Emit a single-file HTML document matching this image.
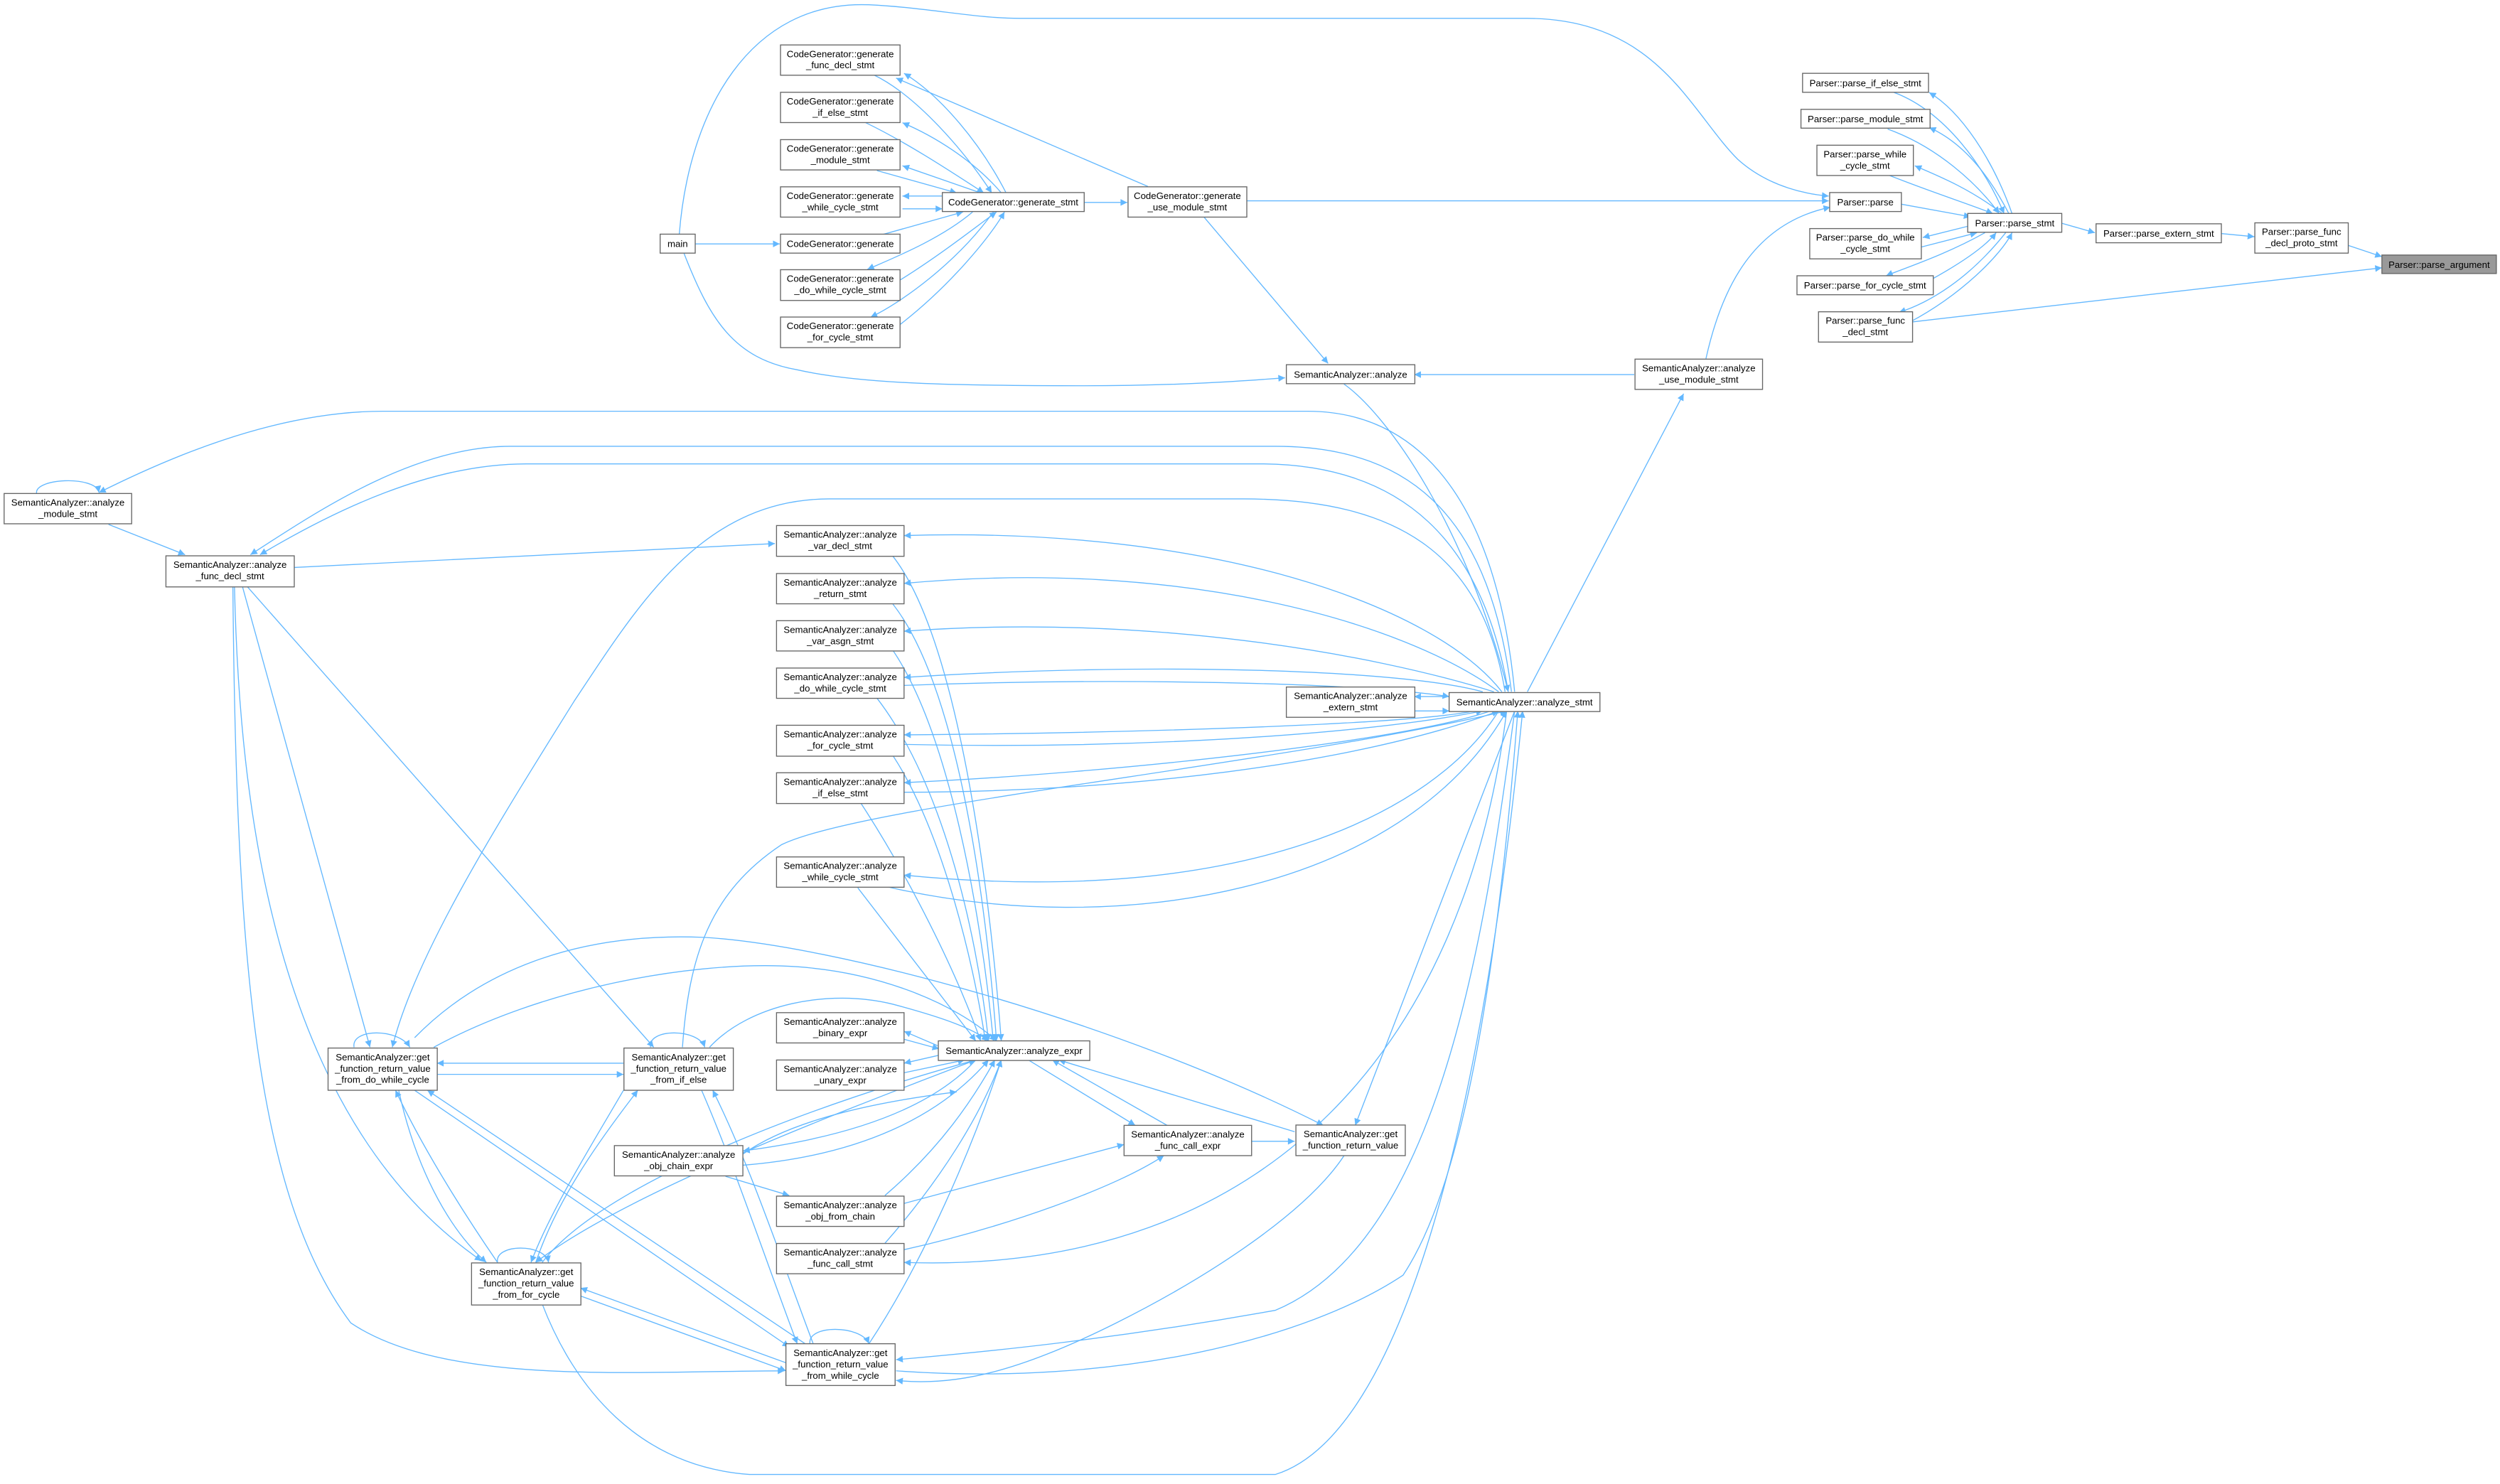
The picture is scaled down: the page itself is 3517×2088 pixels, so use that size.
<!DOCTYPE html>
<html><head><meta charset="utf-8"><style>
html,body{margin:0;padding:0;background:#fff;}
svg{display:block}
text{font-family:"Liberation Sans",Arial,sans-serif;font-size:5.9px;fill:#000;text-anchor:middle}
.e{fill:none;stroke:#63b8ff;stroke-width:0.6}
.n{fill:#fff;stroke:#666;stroke-width:0.6}
</style></head><body>
<svg width="3517" height="2088" viewBox="0 0 1568 931" xmlns="http://www.w3.org/2000/svg">
<defs><marker id="a" viewBox="0 0 10 10" refX="10" refY="5" markerWidth="5.4" markerHeight="4.2" markerUnits="userSpaceOnUse" orient="auto"><path d="M0,0 L10,5 L0,10z" fill="#63b8ff"/></marker></defs>
<g marker-end="url(#a)">
<path class="e" d="M1473,154 L1494,161"/>
<path class="e" d="M1199,202 L1494,168"/>
<path class="e" d="M1393,146.5 L1414,148.5"/>
<path class="e" d="M1293,140 L1314,146"/>
<path class="e" d="M1192,128 L1236,136"/>
<path class="e" d="M1262,134 C1250,100 1230,70 1210,58"/>
<path class="e" d="M1188,58 C1220,70 1245,105 1257,134"/>
<path class="e" d="M1260,134 C1245,105 1228,88 1210,80"/>
<path class="e" d="M1184,81 C1215,92 1240,115 1254,134"/>
<path class="e" d="M1256,134 C1235,118 1215,110 1201,104"/>
<path class="e" d="M1185,110 C1210,120 1235,128 1250,134"/>
<path class="e" d="M1234,142 L1206,149"/>
<path class="e" d="M1205,155 L1240,146"/>
<path class="e" d="M1245,146 C1220,160 1195,168 1183,173"/>
<path class="e" d="M1212,175 C1230,165 1245,155 1252,146"/>
<path class="e" d="M1258,146 C1235,175 1210,190 1191,196"/>
<path class="e" d="M1198,202 C1230,185 1255,160 1262,146"/>
<path class="e" d="M426,147 C432,70 470,0 545,3 C585,5 610,11.5 640,11.5 L958,11.5 C1040,12 1060,70 1090,100 C1110,118 1135,122 1147,123"/>
<path class="e" d="M782,126 L1147,126"/>
<path class="e" d="M1070,225 C1080,180 1100,140 1148,130"/>
<path class="e" d="M1025,235 L887,235"/>
<path class="e" d="M436,153 L489,153"/>
<path class="e" d="M429,159 C445,200 460,225 500,232 C540,241 600,242 680,242 C740,242 780,239 806,237"/>
<path class="e" d="M680,127 L707,127"/>
<path class="e" d="M720,117 L562,49"/>
<path class="e" d="M755,136 L833,228"/>
<path class="e" d="M631,121 C615,90 590,60 567,46"/>
<path class="e" d="M548,47 C575,60 605,95 622,121"/>
<path class="e" d="M628,121 C610,100 585,85 566,77"/>
<path class="e" d="M543,77 C570,90 600,110 617,121"/>
<path class="e" d="M615,121 L566,104"/>
<path class="e" d="M550,107 L600,121"/>
<path class="e" d="M591,123 L566,123"/>
<path class="e" d="M566,131 L591,131"/>
<path class="e" d="M554,147 L604,133"/>
<path class="e" d="M610,133 C590,150 560,162 544,169"/>
<path class="e" d="M564,176 C590,160 615,140 625,133"/>
<path class="e" d="M623,133 C600,165 565,190 546,199"/>
<path class="e" d="M564,204 C595,180 620,150 630,133"/>
<path class="e" d="M843,241 C870,260 920,330 946,434"/>
<path class="e" d="M958,434 L1056,247"/>
<path class="e" d="M909,437 L887,437"/>
<path class="e" d="M887,446 L909,446"/>
<path class="e" d="M950,434 C940,330 900,258 820,258 L240,258 C170,258 100,290 62,309"/>
<path class="e" d="M948,434 C935,330 890,280 800,280 L320,280 C260,280 200,320 157,348"/>
<path class="e" d="M946,434 C930,340 880,291 790,291 L330,291 C270,291 210,320 163,348"/>
<path class="e" d="M184.5,356 L486,341"/>
<path class="e" d="M68,329 L116,348"/>
<path class="e" d="M23,310 C20,300 60,298 62,309"/>
<path class="e" d="M944,434 C930,350 880,313 780,313 L520,313 C440,313 400,380 360,440 C310,520 260,600 246,657"/>
<path class="e" d="M942,434 C900,380 760,330 567,336"/>
<path class="e" d="M940,434 C880,390 740,350 567,366"/>
<path class="e" d="M937,434 C860,410 720,385 567,396"/>
<path class="e" d="M930,434 C880,420 720,415 567,425"/>
<path class="e" d="M567,430 C700,425 850,428 909,437"/>
<path class="e" d="M925,446 C880,455 700,460 567,461"/>
<path class="e" d="M567,467 C700,470 850,462 930,446"/>
<path class="e" d="M935,446 C880,465 700,485 567,491"/>
<path class="e" d="M567,497 C700,497 850,480 940,446"/>
<path class="e" d="M940,446 C900,510 780,570 567,549"/>
<path class="e" d="M555,556 C700,590 880,560 945,446"/>
<path class="e" d="M428,657 C432,600 445,560 490,530 C540,505 800,480 945,446"/>
<path class="e" d="M260,651 C300,610 360,585 440,588 C520,592 700,640 830,706"/>
<path class="e" d="M272,657 C340,620 430,604 490,606 C550,608 600,630 625,653"/>
<path class="e" d="M445,657 C470,630 520,620 560,630 C590,638 610,645 620,653"/>
<path class="e" d="M391,667 L274,667"/>
<path class="e" d="M274,674 L391,674"/>
<path class="e" d="M222,657 C220,645 250,645 257,657"/>
<path class="e" d="M408,657 C406,645 438,645 442,657"/>
<path class="e" d="M312,792 C310,780 342,780 344,792"/>
<path class="e" d="M508,843 C506,831 540,831 545,843"/>
<path class="e" d="M152,368 L232,657"/>
<path class="e" d="M147,368 C150,500 170,700 302,791"/>
<path class="e" d="M146,368 C148,600 160,750 220,830 C280,870 400,860 492,860"/>
<path class="e" d="M155,368 L410,657"/>
<path class="e" d="M250,684 C260,730 280,770 305,792"/>
<path class="e" d="M312,792 C290,760 265,720 248,684"/>
<path class="e" d="M260,684 L495,845"/>
<path class="e" d="M505,843 L268,684"/>
<path class="e" d="M391,684 C370,720 345,760 333,792"/>
<path class="e" d="M336,792 C350,750 380,710 400,684"/>
<path class="e" d="M440,684 C460,730 480,790 500,843"/>
<path class="e" d="M510,843 C490,790 470,730 447,684"/>
<path class="e" d="M493,855 L364,808"/>
<path class="e" d="M364,813 L493,860"/>
<path class="e" d="M340,792 C380,740 520,690 612,665"/>
<path class="e" d="M612,665 C520,700 390,750 336,792"/>
<path class="e" d="M545,843 C580,790 610,720 628,665"/>
<path class="e" d="M950,446 C930,600 900,780 800,822 C700,840 620,848 562,853"/>
<path class="e" d="M562,860 C700,870 820,840 880,800 C920,740 940,600 952,446"/>
<path class="e" d="M340,818 C360,870 400,920 470,925 L800,925 C880,900 930,700 955,446"/>
<path class="e" d="M843,725 C820,760 760,800 700,830 C640,860 600,870 562,866"/>
<path class="e" d="M785,716 L812,716"/>
<path class="e" d="M812,710 L664,665"/>
<path class="e" d="M588,656 L567,647"/>
<path class="e" d="M567,652 L589,658"/>
<path class="e" d="M589,662 L567,667"/>
<path class="e" d="M567,673 L605,665"/>
<path class="e" d="M560,349 C600,400 620,550 628,653"/>
<path class="e" d="M560,379 C600,430 618,560 625,653"/>
<path class="e" d="M560,408 C595,460 615,570 623,653"/>
<path class="e" d="M550,438 C590,490 612,580 620,653"/>
<path class="e" d="M560,474 C590,520 610,600 618,653"/>
<path class="e" d="M540,504 C570,550 600,610 615,653"/>
<path class="e" d="M538,557 L612,653"/>
<path class="e" d="M612,665 C580,700 520,715 466,722"/>
<path class="e" d="M466,731 C540,725 590,700 620,665"/>
<path class="e" d="M455,738 L495,750"/>
<path class="e" d="M555,750 C590,720 610,690 624,665"/>
<path class="e" d="M555,780 C590,740 615,700 628,665"/>
<path class="e" d="M567,755 L705,718"/>
<path class="e" d="M567,784 C630,770 700,745 730,725"/>
<path class="e" d="M645,665 L712,706"/>
<path class="e" d="M732,706 L660,665"/>
<path class="e" d="M945,446 C920,650 800,800 567,792"/>
<path class="e" d="M950,446 L850,706"/>
<path class="e" d="M466,724 C500,700 560,690 600,685"/>
</g>
<g>
<rect class="n" x="414" y="146.9" width="22" height="11.9"/><text x="425" y="155">main</text>
<rect class="n" x="489.5" y="28.2" width="75" height="19"/><text x="527" y="35.8">CodeGenerator::generate</text><text x="527" y="42.9">_func_decl_stmt</text>
<rect class="n" x="489.5" y="57.9" width="75" height="19"/><text x="527" y="65.5">CodeGenerator::generate</text><text x="527" y="72.6">_if_else_stmt</text>
<rect class="n" x="489.5" y="87.6" width="75" height="19"/><text x="527" y="95.2">CodeGenerator::generate</text><text x="527" y="102.3">_module_stmt</text>
<rect class="n" x="489.5" y="117.2" width="75" height="19"/><text x="527" y="124.8">CodeGenerator::generate</text><text x="527" y="131.9">_while_cycle_stmt</text>
<rect class="n" x="489.5" y="146.9" width="75" height="11.9"/><text x="527" y="155">CodeGenerator::generate</text>
<rect class="n" x="489.5" y="169.2" width="75" height="19.3"/><text x="527" y="176.8">CodeGenerator::generate</text><text x="527" y="183.9">_do_while_cycle_stmt</text>
<rect class="n" x="489.5" y="198.9" width="75" height="19.2"/><text x="527" y="206.5">CodeGenerator::generate</text><text x="527" y="213.6">_for_cycle_stmt</text>
<rect class="n" x="591" y="120.8" width="89" height="11.9"/><text x="635.5" y="128.9">CodeGenerator::generate_stmt</text>
<rect class="n" x="707.5" y="117.2" width="74.5" height="19"/><text x="744.7" y="124.8">CodeGenerator::generate</text><text x="744.7" y="131.9">_use_module_stmt</text>
<rect class="n" x="1130.6" y="46" width="79" height="11.9"/><text x="1170" y="54.1">Parser::parse_if_else_stmt</text>
<rect class="n" x="1129.6" y="68.6" width="81" height="11.8"/><text x="1170" y="76.7">Parser::parse_module_stmt</text>
<rect class="n" x="1139.6" y="91.1" width="60.5" height="19"/><text x="1169.8" y="98.7">Parser::parse_while</text><text x="1169.8" y="105.8">_cycle_stmt</text>
<rect class="n" x="1147.6" y="120.8" width="45" height="11.9"/><text x="1170" y="128.9">Parser::parse</text>
<rect class="n" x="1135.1" y="143.4" width="70" height="19"/><text x="1170" y="151">Parser::parse_do_while</text><text x="1170" y="158.1">_cycle_stmt</text>
<rect class="n" x="1127.1" y="173" width="85.5" height="11.9"/><text x="1169.8" y="181.1">Parser::parse_for_cycle_stmt</text>
<rect class="n" x="1140.6" y="195.6" width="59" height="19"/><text x="1170" y="203.2">Parser::parse_func</text><text x="1170" y="210.3">_decl_stmt</text>
<rect class="n" x="1234.2" y="133.9" width="59" height="11.8"/><text x="1263.7" y="142">Parser::parse_stmt</text>
<rect class="n" x="1314.7" y="140.4" width="78.6" height="11.9"/><text x="1354" y="148.5">Parser::parse_extern_stmt</text>
<rect class="n" x="1414.3" y="139.8" width="58.6" height="19"/><text x="1443.6" y="147.4">Parser::parse_func</text><text x="1443.6" y="154.5">_decl_proto_stmt</text>
<rect x="1494" y="160" width="71.8" height="11.6" fill="#999" stroke="#666" stroke-width="0.6"/><text x="1529.9" y="168">Parser::parse_argument</text>
<rect class="n" x="806.8" y="228.8" width="80.6" height="11.9"/><text x="847.1" y="236.9">SemanticAnalyzer::analyze</text>
<rect class="n" x="1025.5" y="225.3" width="80" height="19"/><text x="1065.5" y="232.9">SemanticAnalyzer::analyze</text><text x="1065.5" y="240">_use_module_stmt</text>
<rect class="n" x="908.9" y="434.5" width="94.6" height="11.9"/><text x="956.2" y="442.6">SemanticAnalyzer::analyze_stmt</text>
<rect class="n" x="806.8" y="431" width="80.6" height="19"/><text x="847.1" y="438.6">SemanticAnalyzer::analyze</text><text x="847.1" y="445.7">_extern_stmt</text>
<rect class="n" x="2.5" y="309.6" width="80" height="19"/><text x="42.5" y="317.2">SemanticAnalyzer::analyze</text><text x="42.5" y="324.3">_module_stmt</text>
<rect class="n" x="104" y="348.7" width="80.5" height="19.5"/><text x="144.2" y="356.3">SemanticAnalyzer::analyze</text><text x="144.2" y="363.4">_func_decl_stmt</text>
<rect class="n" x="487" y="329.7" width="80" height="19.3"/><text x="527" y="337.3">SemanticAnalyzer::analyze</text><text x="527" y="344.4">_var_decl_stmt</text>
<rect class="n" x="487" y="359.8" width="80" height="19"/><text x="527" y="367.4">SemanticAnalyzer::analyze</text><text x="527" y="374.5">_return_stmt</text>
<rect class="n" x="487" y="389.4" width="80" height="19"/><text x="527" y="397">SemanticAnalyzer::analyze</text><text x="527" y="404.1">_var_asgn_stmt</text>
<rect class="n" x="487" y="419.1" width="80" height="19"/><text x="527" y="426.7">SemanticAnalyzer::analyze</text><text x="527" y="433.8">_do_while_cycle_stmt</text>
<rect class="n" x="487" y="455" width="80" height="19.4"/><text x="527" y="462.6">SemanticAnalyzer::analyze</text><text x="527" y="469.7">_for_cycle_stmt</text>
<rect class="n" x="487" y="484.8" width="80" height="19.3"/><text x="527" y="492.4">SemanticAnalyzer::analyze</text><text x="527" y="499.5">_if_else_stmt</text>
<rect class="n" x="487" y="537.6" width="80" height="19"/><text x="527" y="545.2">SemanticAnalyzer::analyze</text><text x="527" y="552.3">_while_cycle_stmt</text>
<rect class="n" x="487" y="635.3" width="80" height="19"/><text x="527" y="642.9">SemanticAnalyzer::analyze</text><text x="527" y="650">_binary_expr</text>
<rect class="n" x="487" y="665" width="80" height="19"/><text x="527" y="672.6">SemanticAnalyzer::analyze</text><text x="527" y="679.7">_unary_expr</text>
<rect class="n" x="588.5" y="653" width="95" height="12.3"/><text x="636" y="661.2">SemanticAnalyzer::analyze_expr</text>
<rect class="n" x="705" y="706" width="80" height="19"/><text x="745" y="713.6">SemanticAnalyzer::analyze</text><text x="745" y="720.7">_func_call_expr</text>
<rect class="n" x="385.3" y="718.7" width="80.6" height="19"/><text x="425.6" y="726.3">SemanticAnalyzer::analyze</text><text x="425.6" y="733.4">_obj_chain_expr</text>
<rect class="n" x="487" y="750.4" width="80" height="19"/><text x="527" y="758">SemanticAnalyzer::analyze</text><text x="527" y="765.1">_obj_from_chain</text>
<rect class="n" x="487" y="780.1" width="80" height="19"/><text x="527" y="787.7">SemanticAnalyzer::analyze</text><text x="527" y="794.8">_func_call_stmt</text>
<rect class="n" x="205.7" y="657.5" width="68.5" height="26.5"/><text x="240" y="665.2">SemanticAnalyzer::get</text><text x="240" y="672.3">_function_return_value</text><text x="240" y="679.4">_from_do_while_cycle</text>
<rect class="n" x="391.3" y="657.5" width="68.6" height="26.5"/><text x="425.6" y="665.2">SemanticAnalyzer::get</text><text x="425.6" y="672.3">_function_return_value</text><text x="425.6" y="679.4">_from_if_else</text>
<rect class="n" x="295.7" y="792.3" width="68.6" height="26.4"/><text x="330" y="800">SemanticAnalyzer::get</text><text x="330" y="807.1">_function_return_value</text><text x="330" y="814.2">_from_for_cycle</text>
<rect class="n" x="492.9" y="843" width="68.5" height="26.2"/><text x="527.1" y="850.7">SemanticAnalyzer::get</text><text x="527.1" y="857.8">_function_return_value</text><text x="527.1" y="864.9">_from_while_cycle</text>
<rect class="n" x="812.8" y="705.8" width="68.6" height="19.2"/><text x="847.1" y="713.4">SemanticAnalyzer::get</text><text x="847.1" y="720.5">_function_return_value</text>
</g>
</svg>
</body></html>
